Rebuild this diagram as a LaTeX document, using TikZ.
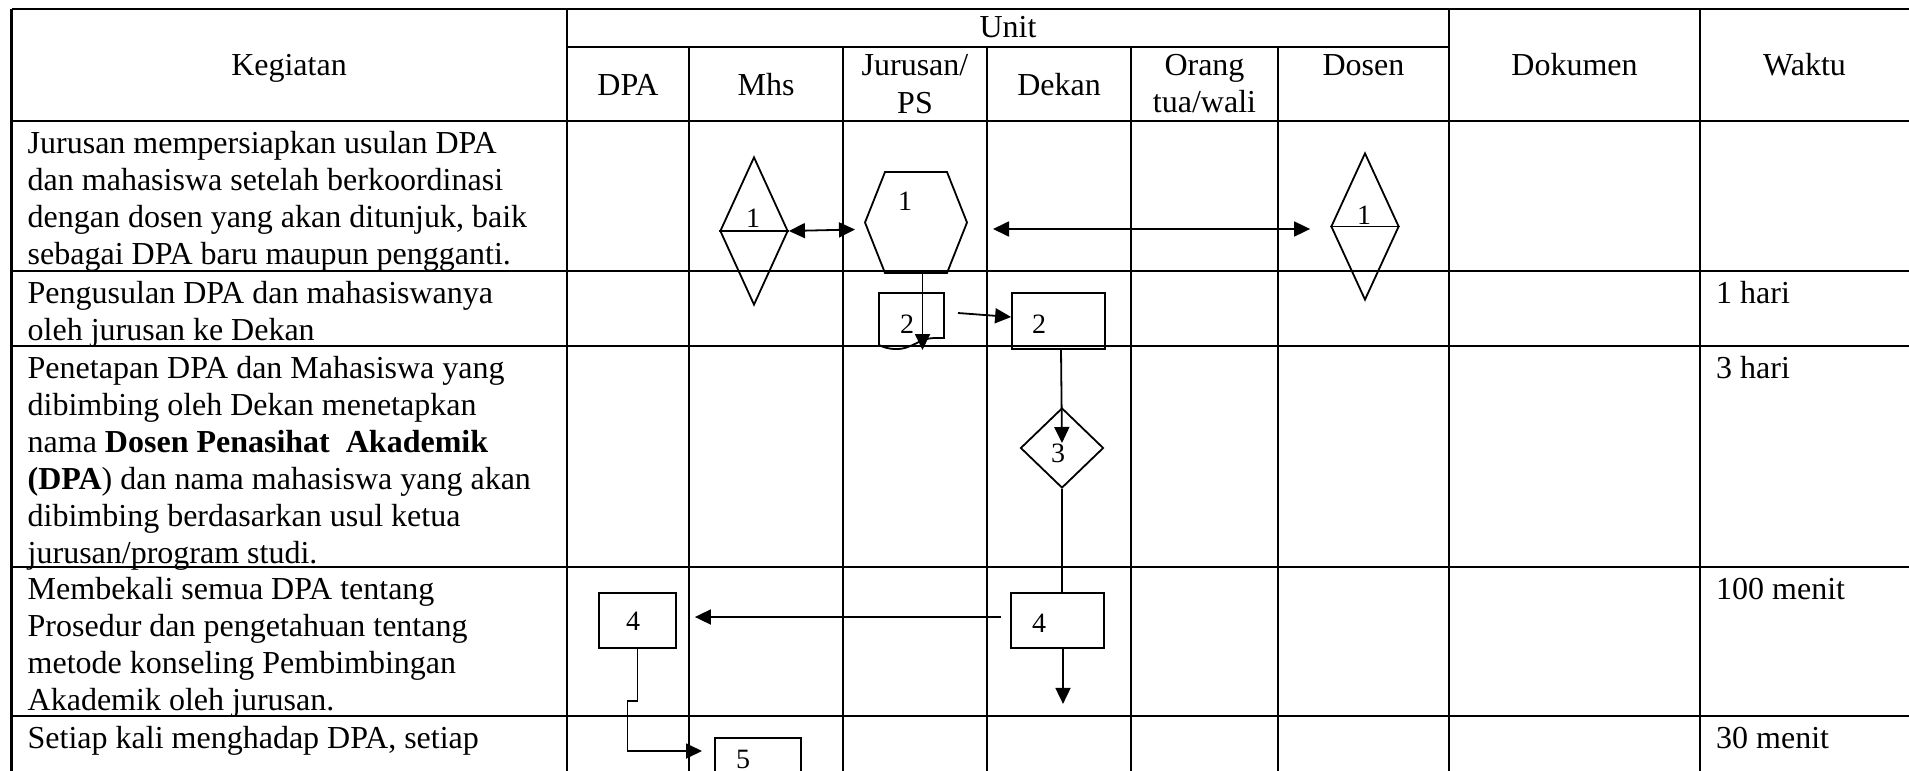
\documentclass[tikz,border=0pt]{standalone}
\usepackage{fontspec}
\setmainfont{Liberation Serif}
\usetikzlibrary{arrows.meta,calc,shapes.geometric}
\begin{document}
\begin{tikzpicture}[x=1pt,y=-1pt,
  grid/.style={line width=2.6pt},
  shp/.style={draw, line width=1.8pt, inner sep=0pt},
  ghost/.style={inner sep=0pt, outer sep=0pt},
  conn/.style={line width=1.8pt},
  arr/.style={conn, -{Triangle[length=16pt,width=15pt]}},
  darr/.style={conn, {Triangle[length=16pt,width=15pt]}-{Triangle[length=16pt,width=15pt]}},
  hdr/.style={inner sep=0pt, anchor=base, font=\fontsize{32}{37}\selectfont},
  body/.style={inner sep=0pt, anchor=north west, align=left, font=\fontsize{32}{37}\selectfont},
  num/.style={inner sep=0pt, anchor=base, font=\fontsize{28}{33}\selectfont},
]
\useasboundingbox (0,0) rectangle (1909,771);
\fill[white] (0,0) rectangle (1909,771);

% ---------- table grid ----------
\foreach \yy in {9,121,271,346,567,716} \draw[grid] (11.5,\yy) -- (1909,\yy);
\draw[grid] (567,47) -- (1449,47);
\foreach \xx in {11.5,567,1449,1700} \draw[grid] (\xx,9) -- (\xx,771);
\foreach \xx in {689,843,987,1131,1278} \draw[grid] (\xx,47) -- (\xx,771);

% ---------- header ----------
\node[hdr] (hKeg) at (289,75) {Kegiatan};
\node[hdr] (hUnit) at (1008,37) {Unit};
\node[hdr] (hDPA) at (628,95) {DPA};
\node[hdr] (hMhs) at (766,95) {Mhs};
\node[hdr] (hJur) at (915,75) {Jurusan/};
\node[hdr] (hPS) at (915,113) {PS};
\node[hdr] (hDek) at (1059,95) {Dekan};
\node[hdr] (hOr) at (1204.5,75) {Orang};
\node[hdr] (hTua) at (1204.5,112) {tua/wali};
\node[hdr] (hDos) at (1363.5,75) {Dosen};
\node[hdr] (hDok) at (1574.5,75) {Dokumen};
\node[hdr] (hWak) at (1804.5,75) {Waktu};

% ---------- activity texts ----------
\node[body] (k1) at (27.5,127) {\strut Jurusan mempersiapkan usulan DPA\\dan mahasiswa setelah berkoordinasi\\dengan dosen yang akan ditunjuk, baik\\sebagai DPA baru maupun pengganti.};
\node[body] (k2) at (27.5,277) {\strut Pengusulan DPA dan mahasiswanya\\oleh jurusan ke Dekan};
\node[body] (k3) at (27.5,352) {\strut Penetapan DPA dan Mahasiswa yang\\dibimbing oleh Dekan menetapkan\\nama \textbf{Dosen Penasihat~\ Akademik}\\\textbf{(DPA}) dan nama mahasiswa yang akan\\dibimbing berdasarkan usul ketua\\jurusan/program studi.};
\node[body] (k4) at (27.5,573) {\strut Membekali semua DPA tentang\\Prosedur dan pengetahuan tentang\\metode konseling Pembimbingan\\Akademik oleh jurusan.};
\node[body] (k5) at (27.5,722) {\strut Setiap kali menghadap DPA, setiap};

% ---------- time texts ----------
\node[body] (w2) at (1716,277) {\strut 1 hari};
\node[body] (w3) at (1716,352) {\strut 3 hari};
\node[body] (w4) at (1716,573) {\strut 100 menit};
\node[body] (w5) at (1716,722) {\strut 30 menit};

% ---------- step 1 ----------
\node[shp, diamond, minimum width=68pt, minimum height=148pt] (d1) at (754,231) {};
\draw[conn] (d1.west) -- (d1.east);
\node[num] (t1a) at (753,227) {1};

\node[ghost, minimum width=102pt, minimum height=101pt] (hex) at (916,222.5) {};
\draw[conn] ($(hex.north west)+(20,0)$) -- ($(hex.north east)+(-20,0)$) -- (hex.east)
  -- ($(hex.south east)+(-20,0)$) -- ($(hex.south west)+(20,0)$) -- (hex.west) -- cycle;
\node[num] (t1b) at (905,210) {1};

\node[shp, diamond, minimum width=68pt, minimum height=147pt] (d2) at (1365,226.5) {};
\draw[conn] (d2.west) -- (d2.east);
\node[num] (t1c) at (1364,224) {1};

\draw[darr] (d1.east) -- ([xshift=-10pt,yshift=-7pt]hex.west);
\draw[darr] ([xshift=26pt,yshift=-6.5pt]hex.east) -- ([xshift=-20pt,yshift=-2.5pt]d2.west);

% ---------- step 2 ----------
\node[ghost, minimum width=65pt, minimum height=45pt] (doc) at (911.5,315.5) {};
\draw[conn] ($(doc.south west)+(0,7)$) -- (doc.north west) -- (doc.north east) -- (doc.south east)
  -- ($(doc.south east)+(-10,0)$)
  .. controls ($(doc.south east)+(-24,0)$) and ($(doc.south east)+(-34,12)$) .. ($(doc.south east)+(-48,11)$)
  .. controls ($(doc.south east)+(-56,11)$) and ($(doc.south east)+(-61,9)$) .. ($(doc.south west)+(0,7)$);
\node[num] (t2a) at (907,333) {2};

\node[shp, minimum width=93pt, minimum height=56pt] (r2) at (1058.5,321) {};
\node[num] (t2b) at (1039,333) {2};

\draw[arr] ([xshift=6.5pt]hex.south) -- ++(0,77);
\draw[arr] ([xshift=14pt,yshift=2.5pt]doc.east) -- ([yshift=4pt]r2.west);

% ---------- step 3 ----------
\node[shp, diamond, minimum width=83pt, minimum height=80pt] (d3) at (1062,448) {};
\node[num] (t3) at (1058,462) {3};
\draw[arr] ([xshift=2.5pt]r2.south) -- ([yshift=5pt]d3.center);

% ---------- step 4 ----------
\node[shp, minimum width=93pt, minimum height=55pt] (r4) at (1057.5,620.5) {};
\node[num] (t4b) at (1039,632) {4};
\node[shp, minimum width=77pt, minimum height=55pt] (r4a) at (637.5,620.5) {};
\node[num] (t4a) at (633,630) {4};

\draw[conn] (d3.south) -- (d3.south |- r4.north);
\draw[arr] ([xshift=5.5pt]r4.south) -- ++(0,55);
\draw[arr] ([xshift=-9pt,yshift=3.5pt]r4.west) -- ([xshift=18pt,yshift=3.5pt]r4a.east);

% ---------- step 5 ----------
\node[shp, minimum width=86pt, minimum height=60pt, anchor=north west] (b5) at (714,737) {};
\node[num] (t5) at (743,768) {5};
\draw[arr] (r4a.south) -- ++(0,52) -- ++(-10,0) |- ([xshift=-12pt]b5.west |- 0,751);
\end{tikzpicture}
\end{document}
